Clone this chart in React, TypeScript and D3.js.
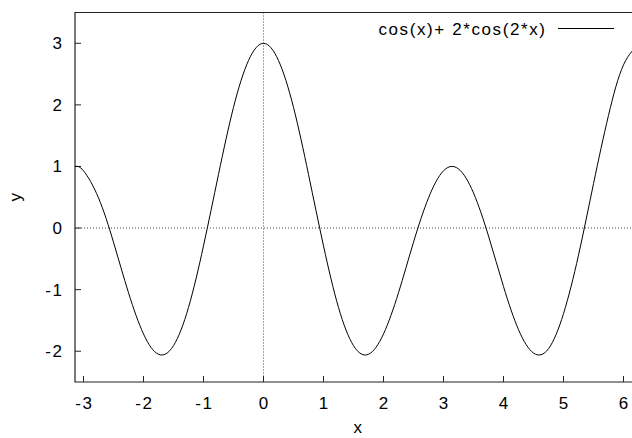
import React, { useEffect, useRef } from "react";
import * as d3 from "d3";

// samples of cos(x)+ 2*cos(2*x)
const xs = [-3.14, -3.0, -2.75, -2.5, -2.25, -2.0, -1.75, -1.5, -1.25, -1.0, -0.75, -0.5, -0.25, 0,
  0.25, 0.5, 0.75, 1.0, 1.25, 1.5, 1.75, 2.0, 2.25, 2.5, 2.75, 3.0, 3.25, 3.5, 3.75,
  4.0, 4.25, 4.5, 4.75, 5.0, 5.25, 5.5, 5.75, 6.0, 6.28];
const ys = [1.0, 0.93, 0.49, -0.23, -1.05, -1.72, -2.05, -1.91, -1.29, -0.29, 0.87, 1.96, 2.72, 3.0,
  2.72, 1.96, 0.87, -0.29, -1.29, -1.91, -2.05, -1.72, -1.05, -0.23, 0.49, 0.93, 0.96, 0.57, -0.13,
  -0.95, -1.65, -2.03, -1.96, -1.39, -0.44, 0.72, 1.83, 2.65, 3.0];
const xTicks = [-3, -2, -1, 0, 1, 2, 3, 4, 5, 6];
const yTicks = [-2, -1, 0, 1, 2, 3];
const seriesName = "cos(x)+ 2*cos(2*x)";

const W = 632;
const H = 438;

export default function App() {
  const ref = useRef<SVGSVGElement>(null);

  useEffect(() => {
    const svg = d3.select(ref.current);
    svg.selectAll("*").remove();

    const left = 75, right = 640.5, top = 12.5, bottom = 382;
    const x = d3.scaleLinear().domain([-Math.PI, 2 * Math.PI]).range([left, right]);
    const y = d3.scaleLinear().domain([-2.5, 3.5]).range([bottom, top]);
    const font = "'Liberation Sans', Arial, Helvetica, sans-serif";
    const fs = 17;
    const ls = 1.6;

    svg.append("clipPath").attr("id", "plot-clip")
      .append("rect").attr("x", left).attr("y", top).attr("width", right - left).attr("height", bottom - top);

    // zero axes
    svg.append("line")
      .attr("x1", left).attr("x2", right).attr("y1", y(0)).attr("y2", y(0))
      .attr("stroke", "#444").attr("stroke-width", 1).attr("stroke-dasharray", "1,2");
    svg.append("line")
      .attr("x1", x(0)).attr("x2", x(0)).attr("y1", top).attr("y2", bottom)
      .attr("stroke", "#444").attr("stroke-width", 1).attr("stroke-dasharray", "1,2");

    // frame
    svg.append("path")
      .attr("d", `M${right},${top}H${left}V${bottom}H${right}`)
      .attr("fill", "none").attr("stroke", "#222").attr("stroke-width", 1.2);

    // ticks
    svg.selectAll(".xt").data(xTicks).enter().append("line")
      .attr("x1", d => x(d)).attr("x2", d => x(d))
      .attr("y1", bottom).attr("y2", bottom - 6)
      .attr("stroke", "#222").attr("stroke-width", 1);
    svg.selectAll(".yt").data(yTicks).enter().append("line")
      .attr("x1", left).attr("x2", left + 6)
      .attr("y1", d => y(d)).attr("y2", d => y(d))
      .attr("stroke", "#222").attr("stroke-width", 1);

    svg.selectAll(".xl").data(xTicks).enter().append("text")
      .attr("x", d => x(d) + ls / 2).attr("y", 409)
      .attr("text-anchor", "middle").attr("font-family", font).attr("font-size", fs)
      .attr("letter-spacing", ls)
      .text(d => String(d));
    svg.selectAll(".yl").data(yTicks).enter().append("text")
      .attr("x", 62 + ls).attr("y", d => y(d) + 6)
      .attr("text-anchor", "end").attr("font-family", font).attr("font-size", fs)
      .attr("letter-spacing", ls)
      .text(d => String(d));

    svg.append("text")
      .attr("x", (left + right) / 2).attr("y", 433)
      .attr("text-anchor", "middle").attr("font-family", font).attr("font-size", fs)
      .text("x");
    svg.append("text")
      .attr("transform", `translate(21,${(top + bottom) / 2}) rotate(-90)`)
      .attr("text-anchor", "middle").attr("font-family", font).attr("font-size", fs)
      .text("y");

    // curve
    const pts: [number, number][] = xs.map((v, i) => [v, ys[i]]);
    const line = d3.line<[number, number]>()
      .x(d => x(d[0])).y(d => y(d[1]))
      .curve(d3.curveNatural);
    svg.append("path")
      .attr("d", line(pts) as string)
      .attr("clip-path", "url(#plot-clip)")
      .attr("fill", "none").attr("stroke", "#000").attr("stroke-width", 1);

    // legend
    svg.append("text")
      .attr("x", 545 + ls).attr("y", 35)
      .attr("text-anchor", "end").attr("font-family", font).attr("font-size", fs)
      .attr("letter-spacing", ls)
      .text(seriesName);
    svg.append("line")
      .attr("x1", 558).attr("x2", 614).attr("y1", 28.5).attr("y2", 28.5)
      .attr("stroke", "#000").attr("stroke-width", 1);
  }, []);

  return (
    <svg
      ref={ref}
      width={W}
      height={H}
      style={{ position: "absolute", left: 0, top: 0, background: "#fff" }}
    />
  );
}
